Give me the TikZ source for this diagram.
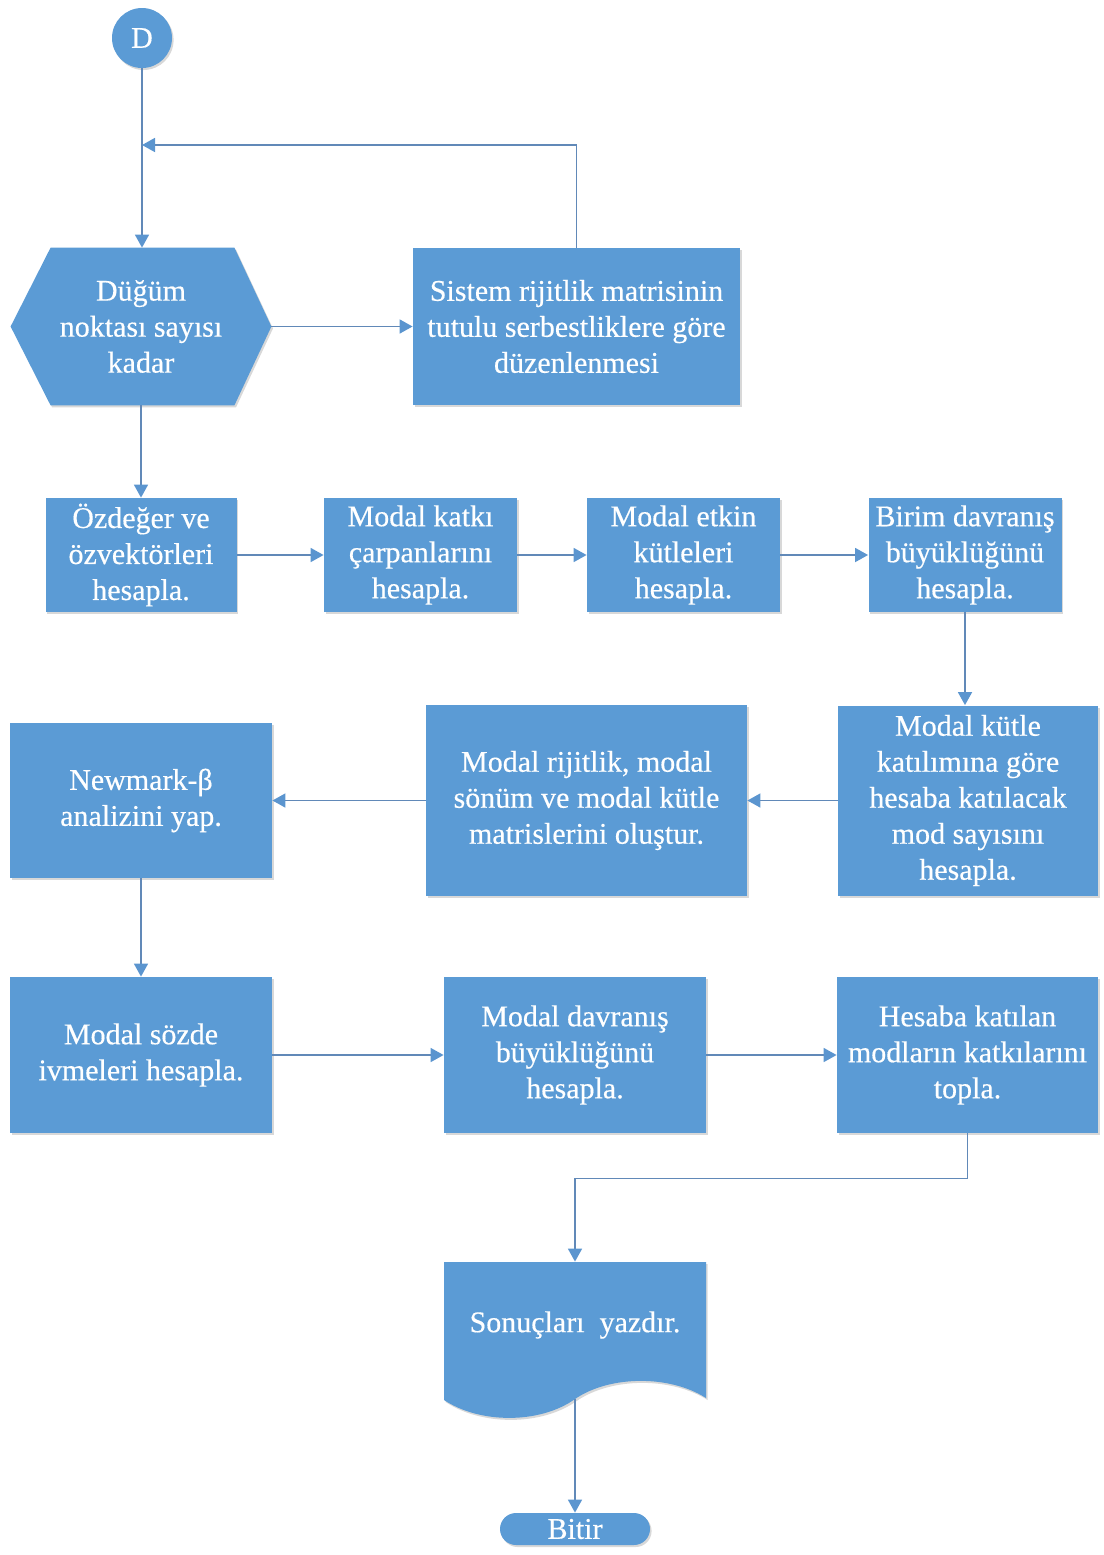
\documentclass[tikz,border=0pt]{standalone}
\usepackage{fontspec}
\setmainfont{Liberation Serif}[FakeBold=0.4]
\usetikzlibrary{arrows.meta,shadows,backgrounds}
\definecolor{boxblue}{HTML}{5B9BD5}
\definecolor{linkblue}{HTML}{6189B8}
\definecolor{tipblue}{HTML}{5B95CF}

\begin{document}
\begin{tikzpicture}[x=0.5pt,y=-0.5pt,
  font=\fontsize{15}{18}\selectfont,
  soft/.style={drop shadow={shadow xshift=0.8pt,shadow yshift=-1pt,opacity=0.22,fill=black!70}},
  box/.style 2 args={soft,fill=boxblue,text=white,align=center,inner sep=0pt,
    minimum width=#1*0.5pt,minimum height=#2*0.5pt},
  ghost/.style 2 args={text=white,align=center,inner sep=0pt,
    minimum width=#1*0.5pt,minimum height=#2*0.5pt},
  link/.style={draw=linkblue,line width=0.8pt,
    -{Triangle[length=6.5pt,width=7pt,color=tipblue]}},
]
\useasboundingbox (0,0) rectangle (1104,1555);

% start connector
\node[soft,circle,fill=boxblue,text=white,minimum size=30pt,inner sep=0pt] (start) at (142,38) {D};

% loop header (hexagon) and the box beside it
\node[ghost={260}{157}] (hex) at (141,326.5) {Düğüm\\noktası sayısı\\kadar};
\begin{scope}[on background layer]
  \fill[boxblue,soft] (hex.west) -- ([xshift=20pt]hex.north west) -- ([xshift=-18.5pt]hex.north east)
    -- (hex.east) -- ([xshift=-18.5pt]hex.south east) -- ([xshift=20pt]hex.south west) -- cycle;
\end{scope}
\node[box={327}{157}] (sis) at (576.5,326.5) {Sistem rijitlik matrisinin\\tutulu serbestliklere göre\\düzenlenmesi};

% second row
\node[box={191}{114}] (ozd)   at (141,555)   {Özdeğer ve\\özvektörleri\\hesapla.};
\node[box={193}{114}] (katki) at (420.5,555) {Modal katkı\\çarpanlarını\\hesapla.};
\node[box={193}{114}] (etkin) at (683.5,555) {Modal etkin\\kütleleri\\hesapla.};
\node[box={193}{114}] (birim) at (965,555)   {Birim davranış\\büyüklüğünü\\hesapla.};

% third row
\node[box={260}{190}] (kutle) at (968,800.5)   {Modal kütle\\katılımına göre\\hesaba katılacak\\mod sayısını\\hesapla.};
\node[box={321}{191}] (rij)   at (586.5,800.5) {Modal rijitlik, modal\\sönüm ve modal kütle\\matrislerini oluştur.};
\node[box={262}{155}] (newm)  at (141,800.5)   {Newmark-β\\analizini yap.};

% fourth row
\node[box={262}{156}] (sozde) at (141,1055)   {Modal sözde\\ivmeleri hesapla.};
\node[box={262}{156}] (davr)  at (575,1055)   {Modal davranış\\büyüklüğünü\\hesapla.};
\node[box={261}{156}] (hes)   at (967.5,1055) {Hesaba katılan\\modların katkılarını\\topla.};

% output document with wavy lower edge
\node[ghost={262}{126}] (doc) at (575,1325) {Sonuçları~~yazdır.};
\begin{scope}[on background layer]
  \fill[boxblue,soft] (444,1262) -- (706,1262) -- (706,1398)
    .. controls (670,1375) and (610,1375) .. (575,1399)
    .. controls (540,1424) and (480,1424) .. (444,1400) -- cycle;
\end{scope}
\coordinate (docout) at (575,1399);

% terminator
\node[soft,fill=boxblue,text=white,rounded corners=8pt,inner sep=0pt,
  minimum width=75pt,minimum height=16pt] (stop) at (575,1529) {Bitir};

% connectors
\coordinate (loopin) at (142,145);
\draw[link] (start) -- (hex.north -| start);
\draw[link] (sis.north) |- (loopin);
\draw[link] (hex.east) -- (sis.west);
\draw[link] (hex.south) -- (ozd.north);
\draw[link] (ozd.east) -- (katki.west);
\draw[link] (katki.east) -- (etkin.west);
\draw[link] (etkin.east) -- (birim.west);
\draw[link] (birim.south) -- (birim.south |- kutle.north);
\draw[link] (kutle.west) -- (rij.east);
\draw[link] (rij.west) -- (newm.east);
\draw[link] (newm.south) -- (sozde.north);
\draw[link] (sozde.east) -- (davr.west);
\draw[link] (davr.east) -- (hes.west);
\draw[link] (hes.south) -- ++(0,45) -| (doc.north);
\draw[link] (docout) -- (stop.north);
\end{tikzpicture}
\end{document}
